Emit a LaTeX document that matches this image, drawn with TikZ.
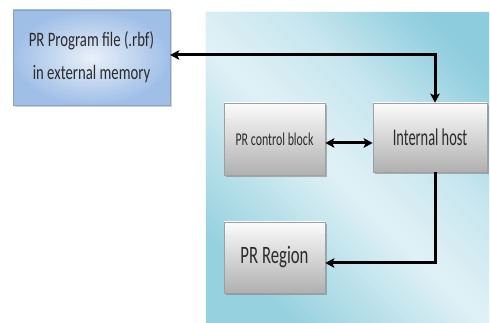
\documentclass[tikz,border=0pt]{standalone}
\usepackage{fontspec}
\setmainfont{Carlito}
\usetikzlibrary{arrows.meta,shadows,calc}
\definecolor{paneldark}{HTML}{8CCCDD}
\definecolor{panelmid}{HTML}{96D1DF}
\definecolor{panellight}{HTML}{E0F1F6}
\definecolor{bluebox}{HTML}{A0BFE7}
\definecolor{blueinner}{HTML}{E9F0F9}
\definecolor{txt}{HTML}{2B2B2B}
\pgfdeclareverticalshading{panelshade}{100bp}{%
  color(0bp)=(panelmid); color(25bp)=(panelmid); color(48bp)=(panellight);
  color(62bp)=(panellight!70!paneldark); color(78bp)=(paneldark); color(100bp)=(paneldark)}
\tikzset{
  graybox/.style={draw=gray!75, line width=0.7pt, top color=gray!3, bottom color=gray!62,
    drop shadow={shadow xshift=2pt, shadow yshift=-2pt, opacity=0.45, fill=gray!80!black},
    text=txt, inner sep=0pt},
  memorybox/.style={draw=bluebox!85!black, line width=0.4pt, inner color=blueinner, outer color=bluebox,
    drop shadow={shadow xshift=2pt, shadow yshift=-2pt, opacity=0.35, fill=gray},
    text=txt, inner sep=0pt, align=center},
  conn/.style={line width=3pt, black},
  tip/.style={-{Stealth[length=9pt,width=9.5pt,inset=2pt]}},
  tips/.style={{Stealth[length=9pt,width=9.5pt,inset=2pt]}-{Stealth[length=9pt,width=9.5pt,inset=2pt]}}
}
\begin{document}
\begin{tikzpicture}[x=1pt,y=1pt]
\useasboundingbox (0,0) rectangle (490,323);
\fill[white] (0,0) rectangle (490,323);
% panel
\shade[shading=panelshade, shading angle=-45] (205,0) rectangle (489,311);
\draw[white!60!panellight, line width=1pt] (205,0) -- (205,311) -- (489,311);
% nodes
\node[memorybox, minimum width=157pt, minimum height=95pt,
  font=\fontsize{20.5}{33.3}\selectfont] (mem) at (91.5,265.5)
  {\scalebox{0.72}[1]{PR Program file (.rbf)}\\\scalebox{0.72}[1]{in external memory}};
\node[graybox, minimum width=101pt, minimum height=72pt] (ctrl) at (274.5,184)
  {\raisebox{-5pt}{\fontsize{18}{20}\selectfont\scalebox{0.66}[1]{PR control block}}};
\node[graybox, minimum width=114pt, minimum height=69pt] (ih) at (430,185.5)
  {\raisebox{-2pt}{\fontsize{24}{26}\selectfont\scalebox{0.6}[1]{Internal host}}\hspace{17pt}};
\node[graybox, minimum width=101pt, minimum height=71pt] (reg) at (274.5,65.5)
  {\raisebox{-3pt}{\fontsize{25}{27}\selectfont\scalebox{0.67}[1]{PR Region}}};
% connectors
\coordinate (top) at (435,268);
\coordinate (bot) at (435,60);
\draw[conn, tips] (mem.east |- top) -- (top) -- (top |- ih.north);
\draw[conn, tips] (ctrl.east |- 0,180) -- (ih.west |- 0,180);
\draw[conn, tip] (bot |- ih.south) -- (bot) -- (reg.east |- bot);
\end{tikzpicture}
\end{document}
